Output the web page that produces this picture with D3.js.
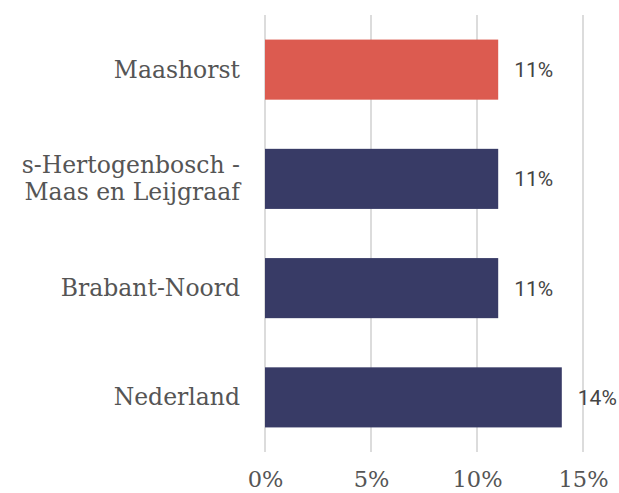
<!DOCTYPE html>
<html>
<head>
<meta charset="utf-8">
<script src="https://cdn.jsdelivr.net/npm/d3@7"></script>
<style>
  html, body { margin: 0; padding: 0; background: #fff; }
  svg { display: block; }
</style>
</head>
<body>
<svg id="chart" width="619" height="493"></svg>
<script>
// Share per region
const categories = ["Maashorst", "s-Hertogenbosch - Maas en Leijgraaf", "Brabant-Noord", "Nederland"];
const labelLines = [["Maashorst"], ["s-Hertogenbosch -", "Maas en Leijgraaf"], ["Brabant-Noord"], ["Nederland"]];
const values = [11, 11, 11, 14];
const barColors = ["#dc5b50", "#383b66", "#383b66", "#383b66"];
const tickValues = [0, 5, 10, 15];

const svg = d3.select("#chart");
const x = d3.scaleLinear().domain([0, 15]).range([265, 583]);
const y = d3.scaleBand().domain(categories).range([15, 452])
  .paddingInner(0.45).paddingOuter(0.225);

const serif = "'DejaVu Serif', serif";
const sans = "Roboto, 'Open Sans', sans-serif";

// vertical gridlines
svg.append("g").selectAll("line").data(tickValues).join("line")
  .attr("x1", d => x(d)).attr("x2", d => x(d))
  .attr("y1", 15).attr("y2", 452)
  .attr("stroke", "#dcdcdc").attr("stroke-width", 2);

// x axis labels
const xAxis = d3.axisBottom(x).tickValues(tickValues).tickFormat(d => d + "%").tickSize(0).tickPadding(0);
const gx = svg.append("g").attr("transform", "translate(0,487)").call(xAxis);
gx.select(".domain").remove();
gx.selectAll("text")
  .attr("font-family", serif).attr("font-size", 22.5).attr("fill", "#555")
  .attr("dy", "0");

// bars
svg.append("g").selectAll("rect").data(categories).join("rect")
  .attr("x", x(0))
  .attr("y", d => y(d))
  .attr("width", (d, i) => x(values[i]) - x(0))
  .attr("height", y.bandwidth())
  .attr("fill", (d, i) => barColors[i]);

// value labels
svg.append("g").selectAll("text").data(categories).join("text")
  .attr("x", (d, i) => x(values[i]) + 16)
  .attr("y", d => y(d) + y.bandwidth() / 2)
  .attr("dy", "0.36em")
  .attr("font-family", sans).attr("font-size", 21).attr("fill", "#444")
  .text((d, i) => values[i] + "%");

// category labels
const lab = svg.append("g").selectAll("text").data(categories).join("text")
  .attr("text-anchor", "end")
  .attr("font-family", serif).attr("font-size", 23.5).attr("fill", "#555")
  .attr("x", 240)
  .attr("y", d => y(d) + y.bandwidth() / 2);
lab.each(function(d, i) {
  const lines = labelLines[i];
  const lh = 27;
  const t = d3.select(this);
  lines.forEach((ln, j) => {
    t.append("tspan").attr("x", 240)
      .attr("dy", j === 0 ? ((-(lines.length - 1) * lh / 2) + 8) + "px" : lh + "px")
      .text(ln);
  });
});
</script>
</body>
</html>
